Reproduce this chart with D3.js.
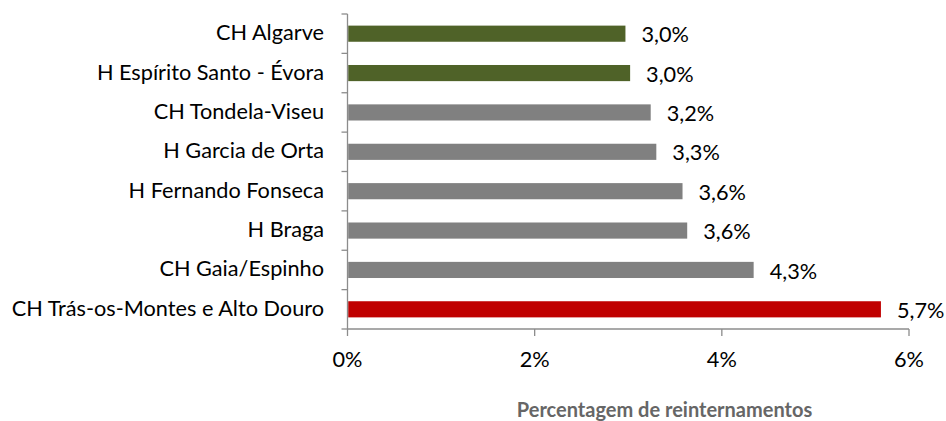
<!DOCTYPE html>
<html><head><meta charset="utf-8">
<script src="https://cdn.jsdelivr.net/npm/d3@7"></script>
<style>body{margin:0;background:#fff}svg{display:block}</style>
</head><body><svg id="c" width="946" height="421"></svg>
<script>
const categories = ["CH Algarve","H Espírito Santo - Évora","CH Tondela-Viseu","H Garcia de Orta","H Fernando Fonseca","H Braga","CH Gaia/Espinho","CH Trás-os-Montes e Alto Douro"];
const values = [2.97,3.02,3.24,3.30,3.58,3.63,4.34,5.70];
const labels = ["3,0%","3,0%","3,2%","3,3%","3,6%","3,6%","4,3%","5,7%"];
const groups = ["green","green","grey","grey","grey","grey","grey","red"];
const xTicks = [0,2,4,6];
const xTitle = "Percentagem de reinternamentos";

const colors = {green:"#4f6228", grey:"#808080", red:"#c00000"};
const font = "Lato, 'Open Sans', sans-serif";
const fs = 21.7;
const svg = d3.select("#c");
const mLeft = 347.5, mRight = 909, mTop = 14, mBottom = 329;
const x = d3.scaleLinear().domain([0,6]).range([mLeft,mRight]);
const y = d3.scaleBand().domain(categories).range([mTop,mBottom]).paddingInner(0.59).paddingOuter(0.295);
const axisColor = "#8c8c8c";

// bars
svg.selectAll("rect.bar").data(categories).join("rect")
  .attr("x", x(0)+0.7).attr("y", d=>y(d))
  .attr("width", (d,i)=>x(values[i])-x(0)-0.7).attr("height", y.bandwidth())
  .attr("fill", (d,i)=>colors[groups[i]]);

// y axis
const yLine = d3.scaleLinear().domain([0,categories.length]).range([mTop,mBottom]);
svg.append("line").attr("x1",mLeft).attr("x2",mLeft).attr("y1",mTop).attr("y2",mBottom).attr("stroke",axisColor).attr("stroke-width",1.3);
svg.selectAll("line.yt").data(d3.range(categories.length+1)).join("line")
  .attr("x1",mLeft-6).attr("x2",mLeft).attr("y1",d=>yLine(d)).attr("y2",d=>yLine(d)).attr("stroke",axisColor).attr("stroke-width",1.3);
svg.selectAll("text.cat").data(categories).join("text")
  .attr("x", 324).attr("y", d=>y(d)+y.bandwidth()/2+6.5)
  .attr("text-anchor","end").attr("font-family",font).attr("font-size",fs).attr("fill","#000").text(d=>d);

// x axis
svg.append("line").attr("x1",mLeft).attr("x2",mRight).attr("y1",mBottom).attr("y2",mBottom).attr("stroke",axisColor).attr("stroke-width",1.3);
svg.selectAll("line.xt").data(xTicks).join("line")
  .attr("x1",d=>x(d)).attr("x2",d=>x(d)).attr("y1",mBottom).attr("y2",mBottom+7).attr("stroke",axisColor).attr("stroke-width",1.3);
svg.selectAll("text.xt").data(xTicks).join("text")
  .attr("x",d=>x(d)).attr("y",mBottom+38).attr("text-anchor","middle")
  .attr("font-family",font).attr("font-size",fs).attr("fill","#000").text(d=>d+"%");

// value labels
svg.selectAll("text.val").data(categories).join("text")
  .attr("x",(d,i)=>x(values[i])+16).attr("y",d=>y(d)+y.bandwidth()+0.5)
  .attr("font-family",font).attr("font-size",fs).attr("fill","#000").text((d,i)=>labels[i]);

svg.append("text").attr("x",664.5).attr("y",417).attr("text-anchor","middle")
  .attr("font-family",font).attr("font-size",20).attr("font-weight","bold").attr("fill","#666666").text(xTitle);
</script></body></html>
